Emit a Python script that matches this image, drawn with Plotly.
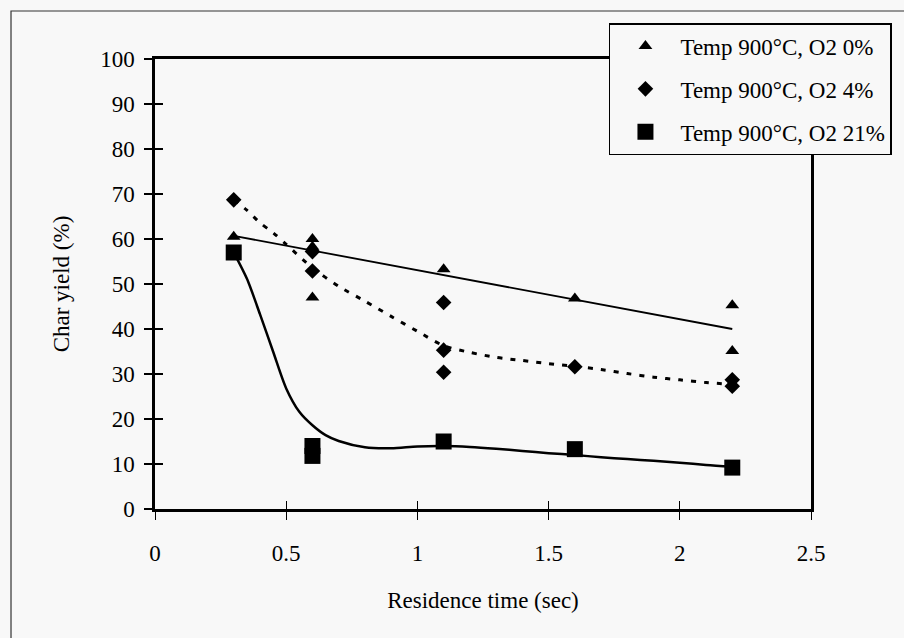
import plotly.graph_objects as go

# Raw measurements
tri_x = [0.3, 0.6, 0.6, 0.6, 1.1, 1.6, 2.2, 2.2]
tri_y = [60.5, 60.0, 58.3, 47.0, 53.3, 46.8, 45.3, 35.1]
dia_x = [0.3, 0.6, 0.6, 1.1, 1.1, 1.1, 1.6, 2.2, 2.2]
dia_y = [68.7, 57.2, 52.9, 45.9, 35.3, 30.4, 31.6, 28.7, 27.3]
sq_x = [0.3, 0.6, 0.6, 1.1, 1.6, 2.2]
sq_y = [57.0, 14.0, 11.8, 15.0, 13.3, 9.2]

# Trend curves
fit0_x = [0.3, 2.2]
fit0_y = [60.7, 40.0]
fit4_x = [0.3, 0.35, 0.4, 0.45, 0.5, 0.6, 0.7, 0.8, 0.9, 1.0, 1.1, 1.2, 1.3, 1.4,
          1.5, 1.6, 1.7, 1.8, 1.9, 2.0, 2.1, 2.2]
fit4_y = [68.7, 66.4, 63.6, 61.4, 58.8, 53.6, 49.5, 46.2, 42.8, 39.5, 36.3, 34.8,
          33.7, 33.0, 32.3, 31.7, 31.0, 30.1, 29.3, 28.7, 28.1, 27.7]
fit21_x = [0.3, 0.35, 0.4, 0.45, 0.5, 0.55, 0.6, 0.65, 0.7, 0.8, 0.9, 1.0, 1.1,
           1.2, 1.3, 1.4, 1.5, 1.6, 1.7, 1.8, 1.9, 2.0, 2.1, 2.2]
fit21_y = [57.0, 51.2, 43.3, 35.0, 26.8, 21.6, 18.6, 16.4, 15.1, 13.7, 13.5, 13.9,
           14.0, 13.8, 13.4, 12.9, 12.4, 12.0, 11.5, 11.1, 10.7, 10.3, 9.8, 9.4]

labels = ["Temp 900°C, O2 0%", "Temp 900°C, O2 4%", "Temp 900°C, O2 21%"]
x_ticks = [0, 0.5, 1, 1.5, 2, 2.5]
x_tick_text = ["0", "0.5", "1", "1.5", "2", "2.5"]
y_ticks = list(range(0, 101, 10))

BG = "#f8f8f8"
FONT = "Liberation Serif"
FS = 23

fig = go.Figure()
fig.add_trace(go.Scatter(x=fit0_x, y=fit0_y, mode="lines", showlegend=False,
                         line=dict(color="black", width=1.8), hoverinfo="skip"))
fig.add_trace(go.Scatter(x=fit4_x, y=fit4_y, mode="lines", showlegend=False,
                         line=dict(color="black", width=3, dash="5px,8px", shape="spline", smoothing=0.8),
                         hoverinfo="skip"))
fig.add_trace(go.Scatter(x=fit21_x, y=fit21_y, mode="lines", showlegend=False,
                         line=dict(color="black", width=2.5, shape="spline", smoothing=0.8),
                         hoverinfo="skip"))

fig.add_trace(go.Scatter(x=tri_x, y=tri_y, mode="markers", name=labels[0], legendgroup="a",
                         marker=dict(symbol="triangle-up", size=12, color="black")))
fig.add_trace(go.Scatter(x=dia_x, y=dia_y, mode="markers", name=labels[1], legendgroup="b",
                         marker=dict(symbol="diamond", size=12, color="black")))
fig.add_trace(go.Scatter(x=sq_x, y=sq_y, mode="markers", name=labels[2], legendgroup="c",
                         marker=dict(symbol="square", size=16, color="black")))

# dummy trace for the overlay axes (inside half of crossing ticks)
fig.add_trace(go.Scatter(x=[None], y=[None], xaxis="x2", yaxis="y2", showlegend=False,
                         hoverinfo="skip"))

axis_common = dict(showgrid=False, zeroline=False, linecolor="black",
                   tickcolor="black", tickfont=dict(family=FONT, size=FS, color="black"))

fig.update_layout(
    width=904, height=638,
    margin=dict(l=155, r=93, t=59, b=129),
    paper_bgcolor=BG, plot_bgcolor=BG,
    font=dict(family=FONT, size=FS, color="black"),
    xaxis=dict(range=[0, 2.5], tickvals=x_ticks, ticktext=x_tick_text,
               ticks="outside", ticklen=8, tickwidth=1.2, linewidth=2.5, mirror=True,
               ticklabelstandoff=14,
               title=dict(text="Residence time (sec)", standoff=27,
                          font=dict(family=FONT, size=FS)),
               **axis_common),
    yaxis=dict(range=[0, 100], tickvals=y_ticks,
               ticks="outside", ticklen=8, tickwidth=1.5, linewidth=2.5, mirror=True,
               ticklabelstandoff=5,
               title=dict(text="Char yield (%)", standoff=25,
                          font=dict(family=FONT, size=FS)),
               **axis_common),
    xaxis2=dict(range=[0, 2.5], tickvals=x_ticks, overlaying="x", anchor="y2",
                ticks="inside", ticklen=8, tickwidth=1.2, tickcolor="black",
                showticklabels=False, showline=False, showgrid=False, zeroline=False),
    yaxis2=dict(range=[0, 100], tickvals=y_ticks, overlaying="y", anchor="x2",
                ticks="inside", ticklen=8, tickwidth=1.5, tickcolor="black",
                showticklabels=False, showline=False, showgrid=False, zeroline=False),
    legend=dict(x=0.692, y=1.08, xanchor="left", yanchor="top",
                bgcolor=BG, bordercolor="black", borderwidth=1.5,
                font=dict(family=FONT, size=FS, color="black"),
                itemwidth=60,
                tracegroupgap=10, traceorder="grouped"),
    shapes=[dict(type="rect", xref="paper", yref="paper",
                 x0=-0.2195, x1=1.5, y0=-0.5, y1=1.1067,
                 line=dict(color="#333333", width=1.2), layer="below")],
)

fig.write_html("out.html")
